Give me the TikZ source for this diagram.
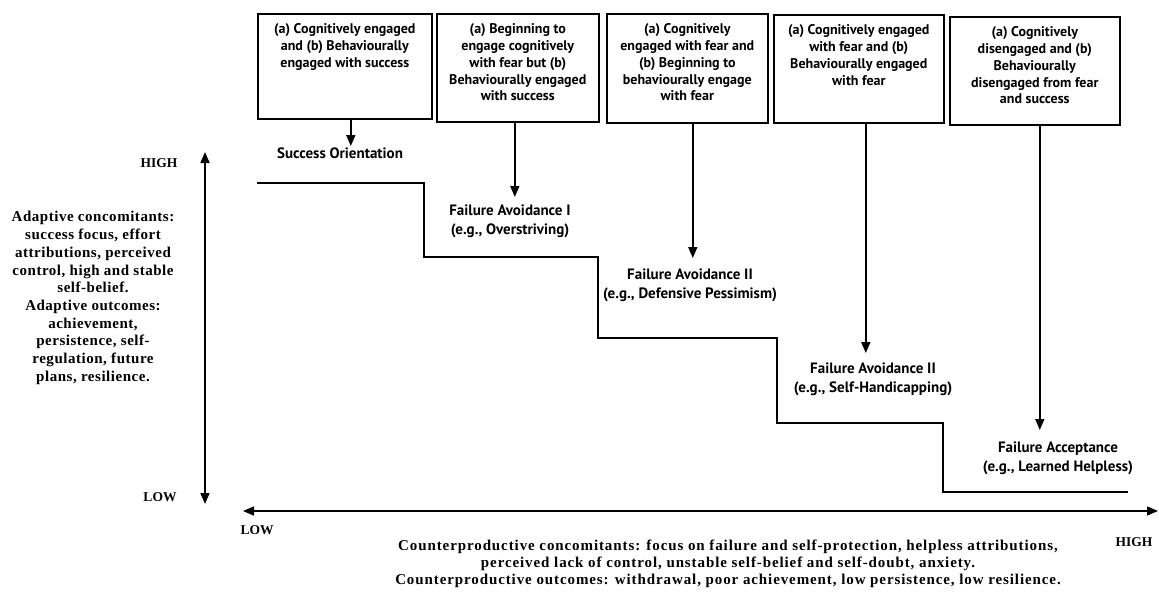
\documentclass[tikz,border=0pt]{standalone}
\usepackage{fontspec}
\setmainfont{Liberation Serif}
\newfontfamily\boxfont{PT Sans}
\newfontfamily\sidefont[LetterSpace=3.5]{Liberation Serif}
\newfontfamily\bottomfont[LetterSpace=6]{Liberation Serif}
\usetikzlibrary{arrows.meta}
\begin{document}
\begin{tikzpicture}[x=1pt,y=-1pt,
  every node/.style={inner sep=2pt},
  stagebox/.style={draw, line width=1.6pt, anchor=north west, inner xsep=0pt, inner ysep=10pt,
    font=\boxfont\bfseries\fontsize{14}{16.8}\selectfont},
  stagelabel/.style={anchor=north, align=center, inner sep=1pt,
    font=\boxfont\bfseries\fontsize{15}{18.5}\selectfont},
  axislabel/.style={font=\bfseries\fontsize{13.5}{15}\selectfont},
  sidetext/.style={align=center, font=\sidefont\bfseries\fontsize{15}{17.7}\selectfont},
  bottomtext/.style={align=center, font=\bottomfont\bfseries\fontsize{15}{16.8}\selectfont},
  arr/.style={line width=1.6pt, -{Triangle[width=9pt,length=11pt]}},
  axis/.style={line width=1.6pt, {Triangle[width=9pt,length=11pt]}-{Triangle[width=9pt,length=11pt]}},
  stair/.style={line width=1.8pt}
]
\useasboundingbox (0,0) rectangle (1159,594);

% boxes
\node[stagebox] (b1) at (257,13) {\parbox[c][85pt][t]{174pt}{\centering
  (a) Cognitively engaged\\ and (b) Behaviourally\\ engaged with success}};
\node[stagebox] (b2) at (436,13) {\parbox[c][88pt][t]{162pt}{\centering
  (a) Beginning to\\ engage cognitively\\ with fear but (b)\\ Behaviourally engaged\\ with success}};
\node[stagebox] (b3) at (606,13) {\parbox[c][89pt][t]{161pt}{\centering
  (a) Cognitively\\ engaged with fear and\\ (b) Beginning to\\ behaviourally engage\\ with fear}};
\node[stagebox] (b4) at (773,14) {\parbox[c][88pt][t]{170pt}{\centering
  (a) Cognitively engaged\\ with fear and (b)\\ Behaviourally engaged\\ with fear}};
\node[stagebox] (b5) at (949,16) {\parbox[c][88pt][t]{170pt}{\centering
  (a) Cognitively\\ disengaged and (b)\\ Behaviourally\\ disengaged from fear\\ and success}};

% stage labels
\node[stagelabel] (l1) at (340,147) {Success Orientation};
\node[stagelabel] (l2) at (510,204) {Failure Avoidance I\\ (e.g., Overstriving)};
\node[stagelabel] (l3) at (690,268) {Failure Avoidance II\\ (e.g., Defensive Pessimism)};
\node[stagelabel] (l4) at (873,362) {Failure Avoidance II\\ (e.g., Self-Handicapping)};
\node[stagelabel] (l5) at (1058,441) {Failure Acceptance\\ (e.g., Learned Helpless)};

% arrows from boxes to labels
\draw[arr] ([xshift=6pt]b1.south) -- ([xshift=6pt,yshift=1pt]b1.south |- l1.north);
\draw[arr] ([xshift=-3pt]b2.south) -- ([xshift=-3pt,yshift=7pt]b2.south |- l2.north);
\draw[arr] ([xshift=5.5pt]b3.south) -- ([xshift=5.5pt,yshift=10pt]b3.south |- l3.north);
\draw[arr] ([xshift=7pt]b4.south) -- ([xshift=7pt,yshift=9pt]b4.south |- l4.north);
\draw[arr] ([xshift=5pt]b5.south) -- ([xshift=5pt,yshift=11pt]b5.south |- l5.north);

% staircase
\draw[stair] (257,183) -| (424,257) -| (598,338) -| (777,423) -| (943,492) -- (1128,492);

% axes
\coordinate (vtop) at (205,152);
\coordinate (vbot) at (205,504);
\coordinate (hleft) at (243,511);
\coordinate (hright) at (1158,511);
\draw[axis] (vtop) -- (vbot);
\draw[axis] (hleft) -- (hright);

\node[axislabel] (vhigh) at (159,163) {HIGH};
\node[axislabel] (vlow) at (160,497) {LOW};
\node[axislabel] (hlow) at (257,530) {LOW};
\node[axislabel] (hhigh) at (1134,542) {HIGH};

% side text
\node[sidetext] (side) at (93,298) {Adaptive concomitants:\\ success focus, effort\\ attributions, perceived\\ control, high and stable\\ self-belief.\\ Adaptive outcomes:\\ achievement,\\ persistence, self-\\ regulation, future\\ plans, resilience.};

% bottom text
\node[bottomtext] (bottom) at (728,564) {Counterproductive concomitants: focus on failure and self-protection, helpless attributions,\\ perceived lack of control, unstable self-belief and self-doubt, anxiety.\\ Counterproductive outcomes: withdrawal, poor achievement, low persistence, low resilience.};
\end{tikzpicture}
\end{document}
